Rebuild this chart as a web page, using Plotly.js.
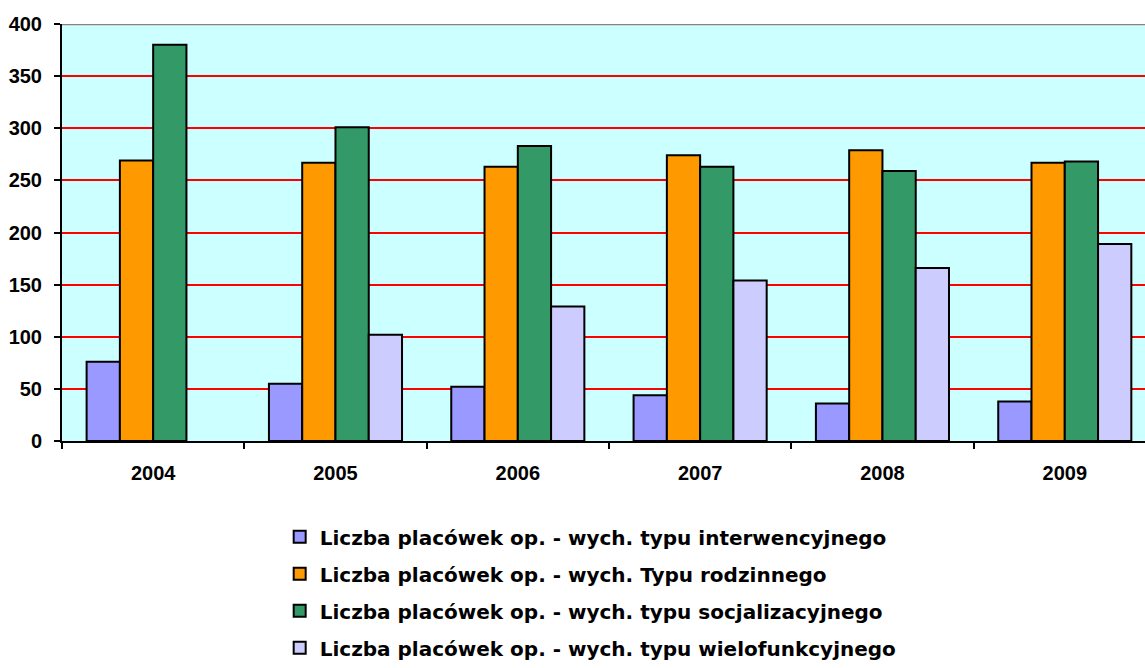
<!DOCTYPE html>
<html><head><meta charset="utf-8">
<script src="https://cdn.plot.ly/plotly-3.0.1.min.js"></script>
<style>html,body{margin:0;padding:0;overflow:hidden;background:#fff}</style>
</head><body><div id="chart" style="width:1145px;height:668px"></div>
<script>
const years = ['2004', '2005', '2006', '2007', '2008', '2009'];
const seriesNames = [
  'Liczba placówek op. - wych. typu interwencyjnego',
  'Liczba placówek op. - wych. Typu rodzinnego',
  'Liczba placówek op. - wych. typu socjalizacyjnego',
  'Liczba placówek op. - wych. typu wielofunkcyjnego'
];
const interwencyjne = [76, 55, 52, 44, 36, 38];
const rodzinne = [269, 267, 263, 274, 279, 267];
const socjalizacyjne = [380, 301, 283, 263, 259, 268];
const wielofunkcyjne = [null, 102, 129, 154, 166, 189];
const seriesValues = [interwencyjne, rodzinne, socjalizacyjne, wielofunkcyjne];
const colors = ['#9999ff', '#ff9900', '#339966', '#ccccff'];
const yTicks = [0, 50, 100, 150, 200, 250, 300, 350, 400];

const traces = seriesValues.map((vals, i) => ({
  type: 'bar',
  name: seriesNames[i],
  x: years,
  y: vals,
  legendgroup: 'g' + i,
  marker: { color: colors[i], line: { color: '#000000', width: 2 } }
}));

const axisFont = { family: 'Liberation Sans, Arial, sans-serif', size: 20, color: '#000000', weight: 'bold' };

const layout = {
  width: 1145, height: 668,
  margin: { l: 62, r: 0, t: 24, b: 227, autoexpand: false },
  paper_bgcolor: '#ffffff',
  plot_bgcolor: '#ccffff',
  barmode: 'group',
  bargap: 0.27,
  bargroupgap: 0,
  hovermode: false,
  xaxis: {
    type: 'category',
    range: [-0.5, 5.44],
    tickson: 'boundaries',
    ticks: 'outside', ticklen: 6, tickwidth: 2, tickcolor: '#000000',
    showline: true, linecolor: '#000000', linewidth: 2,
    showgrid: false, zeroline: false,
    tickfont: axisFont,
    ticklabelstandoff: 13
  },
  yaxis: {
    range: [0, 400],
    tickvals: yTicks,
    ticktext: yTicks.map(String),
    showgrid: true, gridcolor: '#ff0000', gridwidth: 2,
    zeroline: false,
    showline: true, linecolor: '#000000', linewidth: 2,
    ticks: 'outside', ticklen: 6, tickwidth: 2, tickcolor: '#000000',
    tickfont: axisFont,
    ticklabelstandoff: 8
  },
  shapes: [{
    type: 'line', xref: 'paper', yref: 'y', x0: 0, x1: 1, y0: 400, y1: 400,
    line: { color: '#8c8080', width: 2.5 }, layer: 'above'
  }],
  legend: {
    x: 0.201, y: -0.183, xanchor: 'left', yanchor: 'top',
    orientation: 'v',
    traceorder: 'grouped', tracegroupgap: 8,
    bgcolor: 'rgba(0,0,0,0)', borderwidth: 0,
    font: { family: 'DejaVu Sans, sans-serif', size: 20, color: '#000000', weight: 'bold' }
  },
  showlegend: true
};

Plotly.newPlot('chart', traces, layout, { staticPlot: true, displayModeBar: false });
</script>
</body></html>
